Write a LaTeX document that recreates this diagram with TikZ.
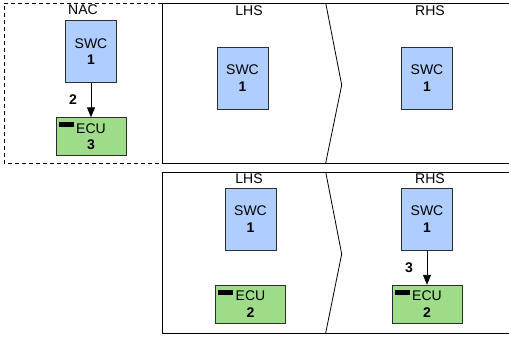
\documentclass[tikz,border=0pt]{standalone}
\usepackage{fontspec}
\setmainfont{Liberation Sans}
\usetikzlibrary{arrows.meta}

\definecolor{swcblue}{RGB}{176,205,255}
\definecolor{ecugreen}{RGB}{158,220,138}
\definecolor{boxline}{RGB}{45,45,45}

\tikzset{
    swc/.style={draw=boxline, fill=swcblue, minimum width=51pt, minimum height=62pt,
        inner sep=0pt, align=center},
    ecu/.style={draw=boxline, fill=ecugreen, minimum width=70pt, minimum height=38pt,
        inner sep=0pt, align=center},
    lbl/.style={inner sep=0pt},
    arr/.style={-{Triangle[length=10pt,width=8pt]}, line width=0.9pt},
    frame/.style={line width=0.9pt}
}

\begin{document}
\begin{tikzpicture}[x=1pt, y=-1pt, font=\fontsize{14}{16.5}\selectfont]
        \useasboundingbox (0,0) rectangle (509,337);

        % NAC
        \draw[dash pattern=on 4pt off 3pt, line width=0.8pt] (162,3) -- (4,3) -- (4,163) -- (162,163);
        \node[lbl] (nac) at (83,10) {NAC};
        \node[swc] (S1) at (91,51.5) {SWC\\\textbf{1}};
        \node[ecu] (E1) at (91,136.5) {ECU\\\textbf{3}};
        \fill ([shift={(3,5)}]E1.north west) rectangle +(15,5);
        \draw[arr] (S1) -- (E1) node [midway, xshift=-18pt] {\textbf{2}};

        % top rule
        \draw[frame] (509,3) -- (162,3) -- (162,163) -- (509,163);
        \draw[line width=0.8pt] (325.7,3) -- (341.7,85) -- (325.7,163);
        \node[lbl] (lhsA) at (249,11) {LHS};
        \node[lbl] (rhsA) at (430,11) {RHS};
        \node[swc] (L1) at (242.5,78) {SWC\\\textbf{1}};
        \node[swc] (R1) at (427,78) {SWC\\\textbf{1}};

        % bottom rule
        \draw[frame] (509,172) -- (162,172) -- (162,333) -- (509,333);
        \draw[line width=0.8pt] (325.7,172) -- (341.7,254) -- (325.7,333);
        \node[lbl] (lhsB) at (249,179) {LHS};
        \node[lbl] (rhsB) at (430,179) {RHS};
        \node[swc] (L2) at (250.5,219) {SWC\\\textbf{1}};
        \node[ecu] (E2) at (250.5,304) {ECU\\\textbf{2}};
        \fill ([shift={(3,5)}]E2.north west) rectangle +(15,5);
        \node[swc] (R2) at (427,219) {SWC\\\textbf{1}};
        \node[ecu] (E3) at (427,304) {ECU\\\textbf{2}};
        \fill ([shift={(3,5)}]E3.north west) rectangle +(15,5);
        \draw[arr] (R2) -- (E3) node [midway, xshift=-18pt] {\textbf{3}};
    \end{tikzpicture}
\end{document}
